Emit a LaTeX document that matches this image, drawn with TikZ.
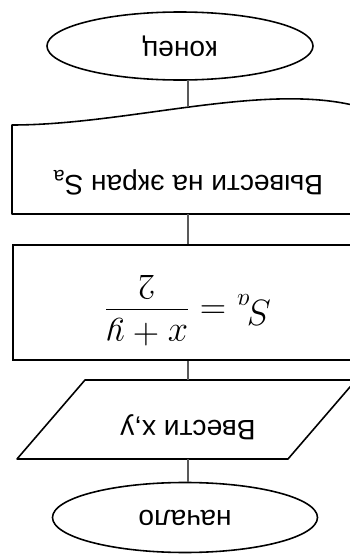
\documentclass[tikz,border=0pt]{standalone}
\usepackage{fontspec}
\setmainfont{Liberation Sans}
\usetikzlibrary{shapes.geometric}

\newcommand{\lift}[1]{\raisebox{0.16cm}[\height][\depth]{#1}}

\begin{document}
\begin{tikzpicture}[
    rotate=180, transform shape,
    term/.style={draw, ellipse, line width=0.9pt, minimum width=5.3cm,
                 minimum height=1.4cm, font=\fontsize{16}{19}\selectfont},
    box/.style={draw, line width=0.9pt, minimum width=7cm, minimum height=2.3cm,
                font=\fontsize{21}{24}\selectfont},
    txt/.style={minimum width=5.42cm, minimum height=1.58cm, inner sep=0pt,
                font=\fontsize{16}{19}\selectfont},
    outline/.style={line width=0.9pt, line join=round},
    link/.style={draw=black!65, line width=0.6pt}
  ]
  \useasboundingbox (0,0) rectangle (7,-11.1);
  \clip (0,0) rectangle (7,-11.1);
  % Начало
  \node[term] (start) at (3.3,-0.75) {начало};
  % Ввод
  \node[txt] (input) at (3.24,-2.71) {\lift{Ввести x,y}};
  \draw[outline] (1.24,-1.92) -- (6.66,-1.92) -- (5.3,-3.5) -- (-0.12,-3.5) -- cycle;
  % Вычисление
  \node[box] (proc) at (3.24,-5.05) {\lift{$\displaystyle S_a=\frac{x+y}{2}$}};
  % Вывод
  \node[txt, minimum width=7.04cm, minimum height=1.28cm] (doc) at (3.24,-7.46)
       {Вывести на экран S\textsubscript{a}};
  \draw[outline] (-0.28,-6.82) -- (6.76,-6.82) -- (6.76,-8.6)
       .. controls (4.4,-8.6) and (1.6,-9.5) .. (-0.28,-8.94) -- cycle;
  \coordinate (wave) at (3.24,-8.97);
  % Конец
  \node[term, minimum width=5.32cm, minimum height=1.36cm] (stop) at (3.4,-10.18) {конец};
  % Линии
  \draw[link] (input) -- (input |- start.south);
  \draw[link] (input) -- (proc);
  \draw[link] (proc) -- (doc);
  \draw[link] (wave) -- (wave |- stop.north);
\end{tikzpicture}
\end{document}
